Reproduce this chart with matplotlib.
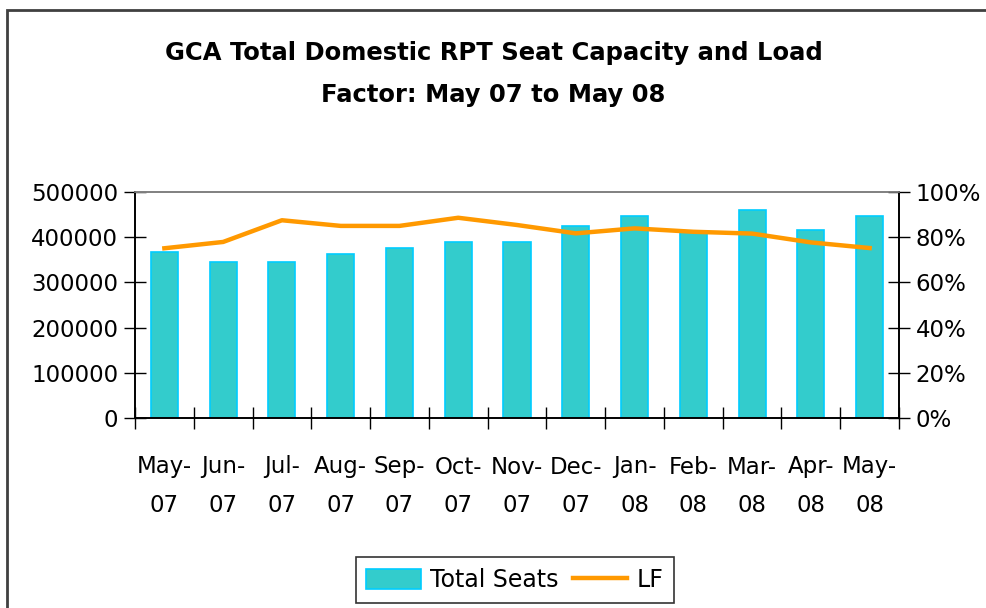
import numpy as np
import matplotlib
matplotlib.use("Agg")
from matplotlib import pyplot as plt
from matplotlib.patches import Rectangle
from matplotlib.ticker import FuncFormatter, FixedLocator

# Chart data
months = ["May-\n07", "Jun-\n07", "Jul-\n07", "Aug-\n07", "Sep-\n07", "Oct-\n07", "Nov-\n07",
          "Dec-\n07", "Jan-\n08", "Feb-\n08", "Mar-\n08", "Apr-\n08", "May-\n08"]
totalSeats = [368000, 346000, 346000, 363500, 377000, 390000, 390000,
              425500, 447500, 411500, 461000, 416500, 447500]
loadFactor = [75.1, 77.9, 87.5, 85.0, 85.0, 88.6, 85.4,
              81.7, 83.9, 82.4, 81.6, 77.7, 75.2]

barColor = "#33CCCC"
barEdge = "#00CCFF"
lineColor = "#FF9900"

plt.rcParams["font.family"] = ["DejaVu Sans"]

fig = plt.figure(figsize=(9.87, 6.08), dpi=100)
ax = fig.add_axes([135 / 987, 1 - 418 / 608, 764 / 987, 226 / 608])
ax2 = ax.twinx()

x = np.arange(len(months))
bars = ax.bar(x, totalSeats, width=0.46, color=barColor, edgecolor=barEdge, linewidth=1.2,
              label="Total Seats", zorder=2)
line, = ax2.plot(x, loadFactor, color=lineColor, linewidth=3.2, label="LF", zorder=3)

ax.set_xlim(-0.5, len(months) - 0.5)
ax.set_ylim(0, 500000)
ax2.set_ylim(0, 100)
ax.set_yticks(range(0, 500001, 100000))
ax2.set_yticks(range(0, 101, 20))
ax2.yaxis.set_major_formatter(FuncFormatter(lambda v, p: f"{int(v)}%"))

# category boundary ticks, labels centred on the bars
ax.xaxis.set_major_locator(FixedLocator(np.arange(-0.5, len(months), 1.0)))
ax.xaxis.set_major_formatter(plt.NullFormatter())
ax.xaxis.set_minor_locator(FixedLocator(x))
ax.set_xticklabels(months, minor=True, fontsize=16.5, linespacing=1.85)
ax.tick_params(axis="x", which="minor", length=0, pad=27)
ax.tick_params(axis="x", which="major", direction="inout", length=16, width=1)
ax.tick_params(axis="y", direction="inout", length=16, width=1, labelsize=16.5, pad=4)
ax2.tick_params(axis="y", direction="inout", length=16, width=1, labelsize=16.5, pad=4)

for a in (ax, ax2):
    a.spines["top"].set_color("#808080")
    a.spines["top"].set_linewidth(1.2)
    for s in ("left", "right", "bottom"):
        a.spines[s].set_color("#000000")
        a.spines[s].set_linewidth(1.2)

fig.text(0.5, 1 - 74 / 608, "GCA Total Domestic RPT Seat Capacity and Load\nFactor: May 07 to May 08",
         ha="center", va="center", fontsize=17.5, fontweight="bold", linespacing=1.9)

leg = fig.legend([bars, line], ["Total Seats", "LF"], loc="center",
                 bbox_to_anchor=(515 / 987, 1 - 580 / 608), ncol=2, fontsize=17,
                 frameon=True, fancybox=False, edgecolor="#000000", handlelength=2.3,
                 handleheight=0.9, handletextpad=0.4, columnspacing=0.6, borderpad=0.45)
leg.get_frame().set_linewidth(1.2)

# outer chart frame, cut off at right and bottom
fig.patches.append(Rectangle((7 / 987, -0.05), 1.1, 1 - 10 / 608 + 0.05, transform=fig.transFigure,
                             fill=False, edgecolor="#404040", linewidth=2))

fig.savefig("out.png", dpi=100)
